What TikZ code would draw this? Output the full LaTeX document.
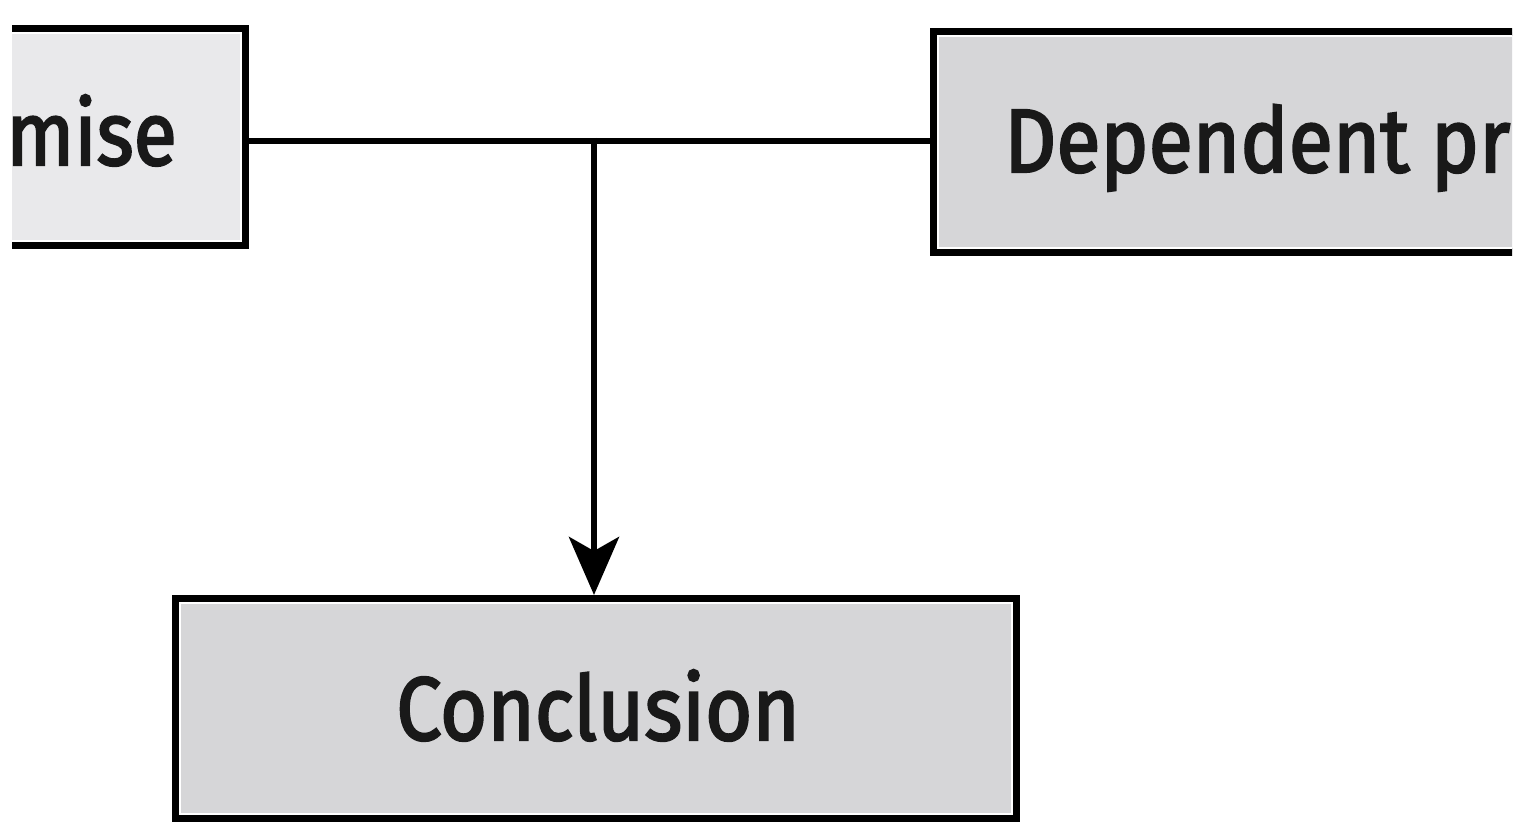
\documentclass[tikz,border=0pt]{standalone}
\usepackage{fontspec}
\setmainfont{Fira Sans}
\newfontfamily\labelfont{Fira Sans}[FakeBold=2.5]
\usetikzlibrary{arrows.meta}
\definecolor{boxgray}{HTML}{D6D6D8}
\definecolor{boxlight}{HTML}{E9E9EB}
\tikzset{
  argbox/.style={draw=black, line width=8pt, fill=#1, inner sep=0pt},
  innerline/.style={draw=white, line width=2.5pt},
  label/.style={inner sep=0pt, font=\fontsize{90}{96}\labelfont, text=black!90},
  conn/.style={draw=black, line width=6.5pt},
  arr/.style={-{Stealth[length=58pt, width=50pt, inset=14pt]}}
}
\begin{document}
\begin{tikzpicture}[x=1pt,y=1pt]
\useasboundingbox[fill=white] (0,0) rectangle (1516,828);
\begin{scope}
\clip (12,0) rectangle (1512,828);
\node[argbox=boxlight, minimum width=545pt, minimum height=216pt] (L) at (-27.5,691) {};
\draw[innerline] ([xshift=-8pt,yshift=-8pt]L.north east) rectangle ([xshift=-600pt,yshift=8pt]L.south east);
\node[argbox=boxgray, minimum width=666pt, minimum height=220pt] (R) at (1267,686) {};
\draw[innerline] ([xshift=8pt,yshift=-8pt]R.north west) rectangle ([xshift=800pt,yshift=8pt]R.south west);
\end{scope}
\node[label, anchor=base east] (Ltext) at (177,663) {\scalebox{0.88}[1]{mise}};
\node[label, anchor=base west] (Rtext) at (1004,656) {\scalebox{0.9}[1]{Dependent pr}};
\node[argbox=boxgray, minimum width=840pt, minimum height=219pt] (C) at (596,119.5) {};
\draw[innerline] ([xshift=8pt,yshift=-8pt]C.north west) rectangle ([xshift=-8pt,yshift=8pt]C.south east);
\node[label, anchor=base] (Ctext) at (598,88) {\scalebox{0.9}[1]{Conclusion}};
\coordinate (J) at (594,687);
\draw[conn] (L.east |- J) -- (R.west |- J);
\draw[conn, arr] ([yshift=3pt]J) -- (C.north -| J);
\end{tikzpicture}
\end{document}
